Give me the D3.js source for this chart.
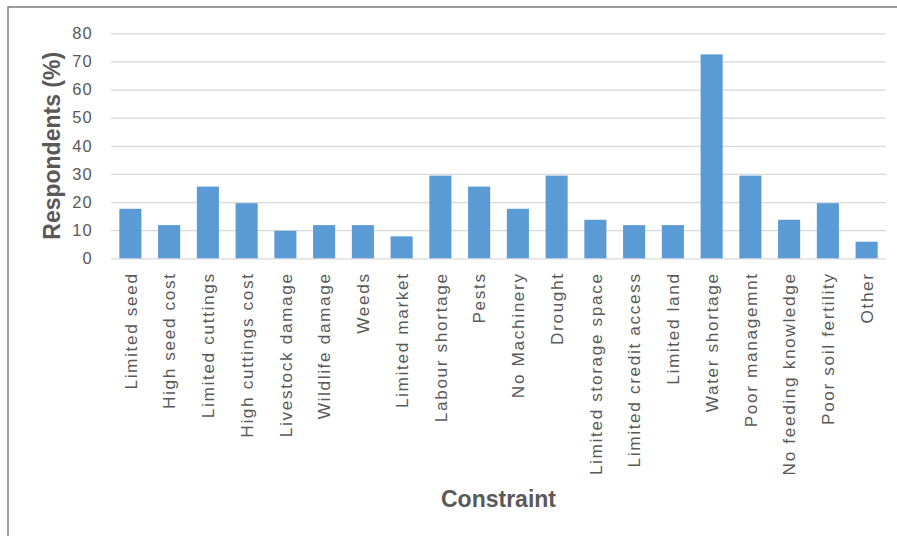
<!DOCTYPE html>
<html>
<head>
<meta charset="utf-8">
<script src="https://cdn.jsdelivr.net/npm/d3@7"></script>
<style>
  html, body { margin: 0; padding: 0; background: #fff; }
  svg { display: block; font-family: "Liberation Sans", Arial, sans-serif; }
</style>
</head>
<body>
<svg id="chart" width="897" height="536"></svg>
<script>
const categories = [
  "Limited seed", "High seed cost", "Limited cuttings", "High cuttings cost",
  "Livestock damage", "Wildlife damage", "Weeds", "Limited market",
  "Labour shortage", "Pests", "No Machinery", "Drought",
  "Limited storage space", "Limited credit access", "Limited land",
  "Water shortage", "Poor managemnt", "No feeding knowledge",
  "Poor soil fertility", "Other"
];
const values = [
  17.6, 11.8, 25.5, 19.6, 9.8, 11.8, 11.8, 7.8, 29.4, 25.5,
  17.6, 29.4, 13.7, 11.8, 11.8, 72.5, 29.4, 13.7, 19.6, 5.9
];
const yTicks = [0, 10, 20, 30, 40, 50, 60, 70, 80];
const yTitle = "Respondents (%)";
const xTitle = "Constraint";

const svg = d3.select("#chart");
const W = 897, H = 536;
const plot = { left: 111, right: 886, top: 33.3, bottom: 258.3 };

// outer frame (top and left edges visible)
svg.append("rect")
  .attr("x", 8).attr("y", 7)
  .attr("width", W + 10).attr("height", H + 10)
  .attr("fill", "#fff")
  .attr("stroke", "#6b6b6b").attr("stroke-width", 1.3);

const x = d3.scaleBand()
  .domain(categories)
  .range([plot.left, plot.right])
  .paddingInner(0.43)
  .paddingOuter(0.215);

const y = d3.scaleLinear()
  .domain([0, 80])
  .range([plot.bottom, plot.top]);

// gridlines
const grid = d3.axisLeft(y).tickValues(yTicks)
  .tickSize(-(plot.right - plot.left)).tickFormat("");
const gg = svg.append("g")
  .attr("transform", `translate(${plot.left},0)`)
  .call(grid);
gg.select(".domain").remove();
gg.selectAll(".tick line").attr("stroke", "#d9d9d9").attr("stroke-width", 1.2);

// y tick labels
const ya = svg.append("g")
  .attr("transform", `translate(93,0)`)
  .call(d3.axisLeft(y).tickValues(yTicks).tickSize(0).tickPadding(0));
ya.select(".domain").remove();
ya.selectAll(".tick text")
  .attr("fill", "#595959")
  .attr("font-size", 16.5)
  .attr("letter-spacing", 1.2)
  .attr("font-family", "Liberation Sans, Arial, sans-serif");

// bars
svg.append("g").selectAll("rect")
  .data(categories)
  .join("rect")
  .attr("x", d => x(d))
  .attr("width", x.bandwidth())
  .attr("y", (d, i) => y(values[i]))
  .attr("height", (d, i) => y(0) - y(values[i]))
  .attr("fill", "#5b9bd5");

// x labels
const xa = svg.append("g")
  .attr("transform", `translate(0,${plot.bottom})`)
  .call(d3.axisBottom(x).tickSize(0).tickPadding(0));
xa.select(".domain").remove();
xa.selectAll(".tick text")
  .attr("fill", "#595959")
  .attr("font-size", 17.2)
  .attr("letter-spacing", 1.65)
  .attr("font-family", "Liberation Sans, Arial, sans-serif")
  .attr("text-anchor", "end")
  .attr("transform", "rotate(-90)")
  .attr("x", -14)
  .attr("y", 0)
  .attr("dy", "0.36em");

// axis titles
svg.append("text")
  .attr("transform", `translate(60,${(plot.top + plot.bottom) / 2}) rotate(-90)`)
  .attr("text-anchor", "middle")
  .attr("font-size", 23)
  .attr("font-weight", "bold")
  .attr("fill", "#595959")
  .text(yTitle);

svg.append("text")
  .attr("x", (plot.left + plot.right) / 2)
  .attr("y", 506.5)
  .attr("text-anchor", "middle")
  .attr("font-size", 23)
  .attr("font-weight", "bold")
  .attr("fill", "#595959")
  .text(xTitle);
</script>
</body>
</html>
